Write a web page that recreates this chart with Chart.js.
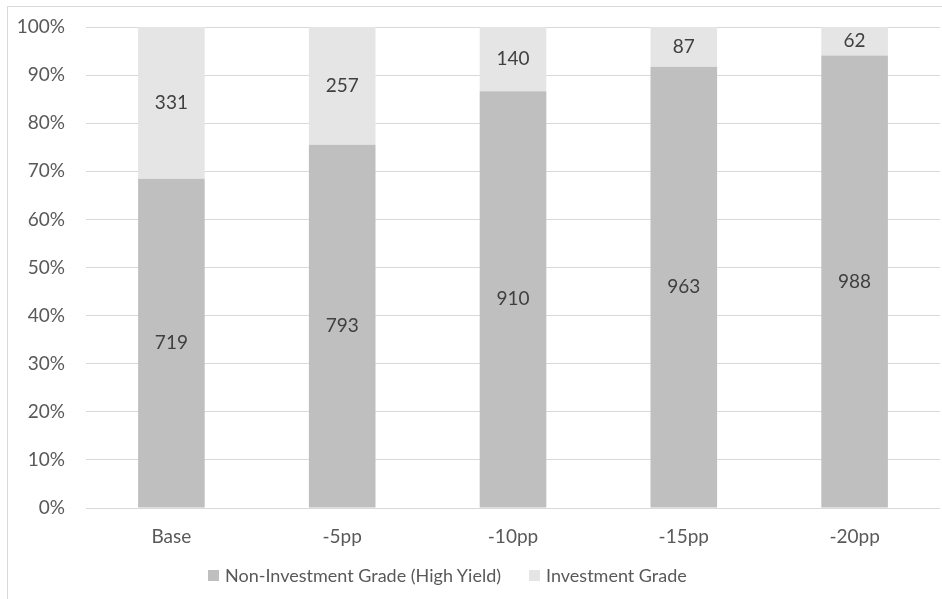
<!DOCTYPE html>
<html>
<head>
<meta charset="utf-8">
<title>Rating mix by scenario</title>
<script src="https://cdn.jsdelivr.net/npm/chart.js@4/dist/chart.umd.min.js"></script>
<style>
    html, body { margin: 0; padding: 0; background: #ffffff; overflow: hidden; }
    #wrap { position: relative; width: 942px; height: 599px; }
    #frame {
        position: absolute; left: 7px; top: 6px; width: 960px; height: 620px;
        border: 1px solid #d9d9d9; box-sizing: border-box;
    }
    #ratingChart { position: absolute; left: 0; top: 0; }
    #legend {
        position: absolute; left: 208px; top: 564px; display: flex; align-items: center;
        font-family: Lato, sans-serif; font-size: 18px; color: #595959; white-space: nowrap;
    }
    #legend .item { display: flex; align-items: center; margin-right: 28px; }
    #legend .swatch { width: 11px; height: 11px; margin-right: 6px; }
</style>
</head>
<body>
<div id="wrap">
    <div id="frame"></div>
    <canvas id="ratingChart" width="942" height="599"></canvas>
    <div id="legend"></div>
</div>
<script>
const scenarios = ["Base", "-5pp", "-10pp", "-15pp", "-20pp"];
const highYieldCounts = [719, 793, 910, 963, 988];
const investmentGradeCounts = [331, 257, 140, 87, 62];
const yTicks = [0, 10, 20, 30, 40, 50, 60, 70, 80, 90, 100];

const colors = {
    highYield: "#bfbfbf",
    investment: "#e5e5e5",
    grid: "#d9d9d9",
    tick: "#595959",
    label: "#404040",
};

function share(part, other) {
    return part.map((v, i) => (v / (v + other[i])) * 100);
}

// writes the raw count in the middle of each stacked segment
const segmentLabels = {
    id: "segmentLabels",
    afterDatasetsDraw(chart) {
        const ctx = chart.ctx;
        ctx.save();
        ctx.font = "19px Lato, sans-serif";
        ctx.fillStyle = colors.label;
        ctx.textAlign = "center";
        ctx.textBaseline = "middle";
        chart.data.datasets.forEach((ds, di) => {
            const meta = chart.getDatasetMeta(di);
            meta.data.forEach((bar, i) => {
                const { x, y, base } = bar.getProps(["x", "y", "base"], true);
                ctx.fillText(String(ds.counts[i]), x, (y + base) / 2);
            });
        });
        ctx.restore();
    },
};

const chart = new Chart(document.getElementById("ratingChart"), {
    type: "bar",
    data: {
        labels: scenarios,
        datasets: [
            {
                label: "Non-Investment Grade (High Yield)",
                data: share(highYieldCounts, investmentGradeCounts),
                counts: highYieldCounts,
                backgroundColor: colors.highYield,
                barPercentage: 0.39,
                categoryPercentage: 1,
            },
            {
                label: "Investment Grade",
                data: share(investmentGradeCounts, highYieldCounts),
                counts: investmentGradeCounts,
                backgroundColor: colors.investment,
                barPercentage: 0.39,
                categoryPercentage: 1,
            },
        ],
    },
    options: {
        responsive: false,
        animation: false,
        layout: { padding: { top: 27, right: 2, left: 0, bottom: 0 } },
        plugins: {
            legend: { display: false },
            tooltip: { enabled: false },
        },
        scales: {
            x: {
                stacked: true,
                border: { display: false },
                grid: { display: false, drawTicks: false },
                ticks: { color: colors.tick, padding: 17, font: { family: "Lato", size: 19 } },
                afterFit: (s) => { s.height = 91; },
            },
            y: {
                stacked: true,
                min: 0,
                max: 100,
                border: { display: false },
                grid: { color: colors.grid, lineWidth: 1, drawTicks: false },
                afterBuildTicks: (s) => { s.ticks = yTicks.map((v) => ({ value: v })); },
                ticks: {
                    color: colors.tick,
                    padding: 21,
                    font: { family: "Lato", size: 19 },
                    callback: (v) => v + "%",
                },
                afterFit: (s) => {
                    s.width = 86;
                    s.paddingTop = 0;
                    s.paddingBottom = 0;
                },
            },
        },
    },
    plugins: [segmentLabels],
});

// legend built from the datasets
const legend = document.getElementById("legend");
chart.data.datasets.forEach((ds) => {
    const item = document.createElement("div");
    item.className = "item";
    const sw = document.createElement("span");
    sw.className = "swatch";
    sw.style.background = ds.backgroundColor;
    const txt = document.createElement("span");
    txt.textContent = ds.label;
    item.appendChild(sw);
    item.appendChild(txt);
    legend.appendChild(item);
});
</script>
</body>
</html>
